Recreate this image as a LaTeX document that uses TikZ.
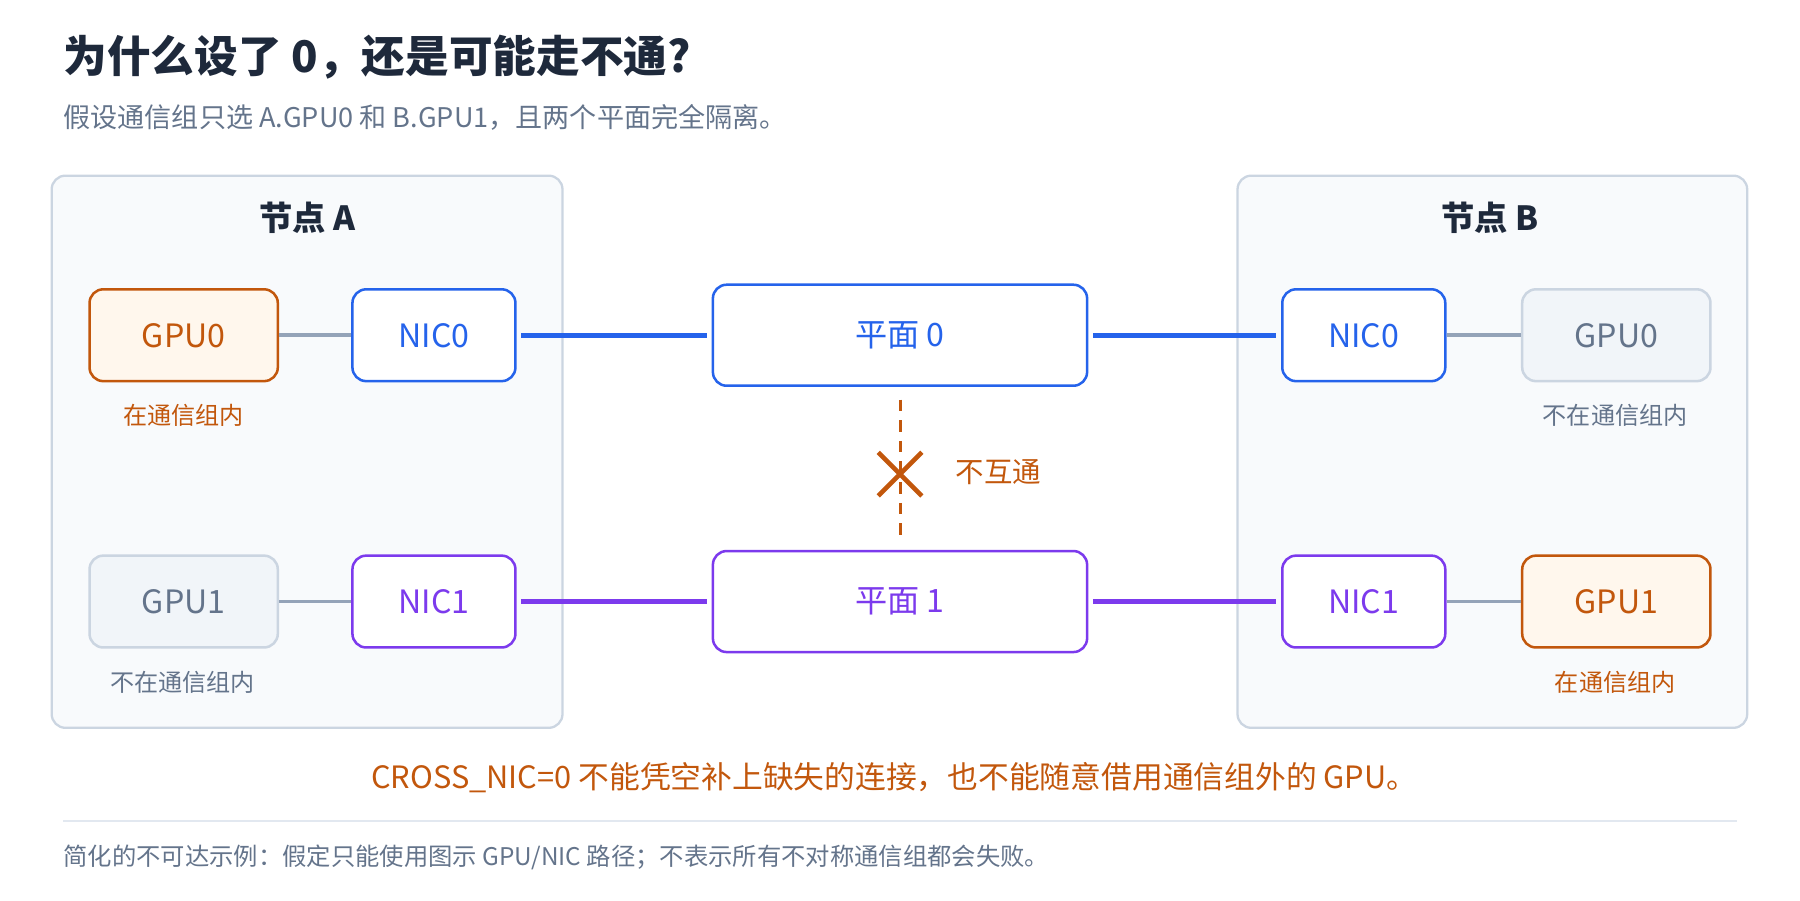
\documentclass[tikz,border=0pt]{standalone}
\usepackage{fontspec}
\setmainfont{Noto Sans CJK SC}
\begin{document}
\definecolor{blu}{HTML}{2563EB}
\definecolor{pur}{HTML}{7C3AED}
\definecolor{org}{HTML}{C2570C}
\definecolor{gry}{HTML}{94A3B8}
\definecolor{bord}{HTML}{CBD5E1}
\definecolor{pfill}{HTML}{F8FAFC}
\definecolor{gfill}{HTML}{F1F5F9}
\definecolor{ofill}{HTML}{FFF7ED}
\definecolor{txtg}{HTML}{64748B}
\definecolor{dark}{HTML}{1E293B}
\definecolor{rule}{HTML}{E2E8F0}
\begin{tikzpicture}[x=0.5pt,y=-0.5pt,
  panel/.style={draw=bord,line width=1pt,fill=pfill,rounded corners=6pt},
  box/.style={rounded corners=6pt,line width=1.1pt,fill=white,minimum height=40pt,font=\fontsize{14}{16}\selectfont},
  nic/.style={box,minimum width=71pt},
  plane/.style={box,minimum width=163pt,minimum height=44pt},
  gpuin/.style={box,draw=org,fill=ofill,text=org,minimum width=82pt},
  gpuout/.style={box,draw=bord,fill=gfill,text=txtg,minimum width=82pt},
  lab/.style={font=\fontsize{10.5}{12}\selectfont},
  link/.style={line width=2pt,shorten <=2pt,shorten >=2pt},
  glink/.style={draw=gry,line width=1.5pt}]
\useasboundingbox (0,0) rectangle (1568,784);
\node[anchor=west,inner xsep=0pt,font=\fontsize{19}{22}\selectfont\bfseries,text=dark] (title) at (55,50) {为什么设了 0，还是可能走不通?};
\node[anchor=west,inner xsep=0pt,font=\fontsize{11.8}{14}\selectfont,text=txtg] (sub) at (55,102) {假设通信组只选 A.GPU0 和 B.GPU1，且两个平面完全隔离。};
\draw[panel] (45,153) rectangle (490,634);
\draw[panel] (1078,153) rectangle (1522,634);
\node[font=\fontsize{14.5}{16}\selectfont\bfseries,text=dark] (na) at (268,190) {节点 A};
\node[font=\fontsize{14.5}{16}\selectfont\bfseries,text=dark] (nb) at (1298,190) {节点 B};
\node[gpuin] (ga0) at (160,292) {GPU0};
\node[nic,draw=blu,text=blu] (na0) at (378,292) {NIC0};
\node[plane,draw=blu,text=blu] (p0) at (784,292) {平面 0};
\node[nic,draw=blu,text=blu] (nb0) at (1188,292) {NIC0};
\node[gpuout] (gb0) at (1408,292) {GPU0};
\node[gpuout] (ga1) at (160,524) {GPU1};
\node[nic,draw=pur,text=pur] (na1) at (378,524) {NIC1};
\node[plane,draw=pur,text=pur] (p1) at (784,524) {平面 1};
\node[nic,draw=pur,text=pur] (nb1) at (1188,524) {NIC1};
\node[gpuin] (gb1) at (1408,524) {GPU1};
\node[lab,text=org] (l1) at (160,362) {在通信组内};
\node[lab,text=txtg] (l2) at (1407,362) {不在通信组内};
\node[lab,text=txtg] (l3) at (159,594) {不在通信组内};
\node[lab,text=org] (l4) at (1407,594) {在通信组内};
\draw[glink] (ga0) -- (na0); \draw[glink] (nb0) -- (gb0);
\draw[glink] (ga1) -- (na1); \draw[glink] (nb1) -- (gb1);
\draw[link,blu] (na0) -- (p0); \draw[link,blu] (p0) -- (nb0);
\draw[link,pur] (na1) -- (p1); \draw[link,pur] (p1) -- (nb1);
\coordinate (d0) at (784,348); \coordinate (d1) at (784,472);
\draw[org,line width=1.3pt,dash pattern=on 5pt off 4pt] (d0) -- (d1);
\coordinate (x0) at (784,413);
\draw[org,line width=2pt] ([shift={(-19,-19)}]x0) -- ([shift={(19,19)}]x0) ([shift={(-19,19)}]x0) -- ([shift={(19,-19)}]x0);
\node[anchor=west,inner xsep=0pt,font=\fontsize{12.4}{14}\selectfont,text=org] (nt) at (832,411) {不互通};
\node[font=\fontsize{13.4}{15}\selectfont,text=org] (bot) at (779,677) {CROSS\_NIC=0 不能凭空补上缺失的连接，也不能随意借用通信组外的 GPU。};
\draw[rule,line width=0.6pt] (55,715) -- (1513,715);
\node[anchor=west,inner xsep=0pt,font=\fontsize{10.6}{12}\selectfont,text=txtg] (foot) at (55,747) {简化的不可达示例：假定只能使用图示 GPU/NIC 路径；不表示所有不对称通信组都会失败。};
\end{tikzpicture}
\end{document}
